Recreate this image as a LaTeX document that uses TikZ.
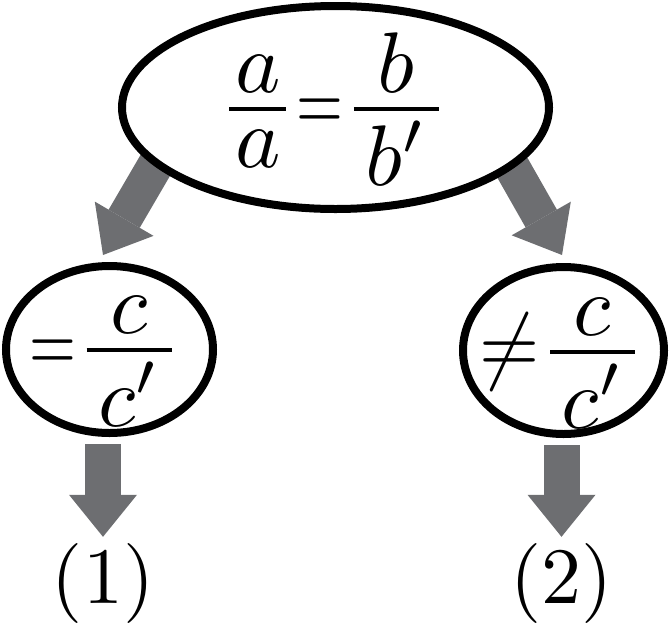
\documentclass[tikz,border=0pt]{standalone}
\usepackage{amsmath}
\usepackage{graphicx}
\usetikzlibrary{arrows.meta, shapes.geometric, backgrounds}

\definecolor{arrowgray}{RGB}{109,110,113}
\newcommand{\bigtext}[1]{\scalebox{8}{#1}}
\newcommand{\bigmath}[1]{\scalebox{8.6}{$\thickmuskip=0mu #1$}}
% fraction with a wide bar and tight spacing: num, den, raise of den, bar width
\newcommand{\fr}[4]{\dfrac{\raisebox{-2.4pt}{\makebox[#4]{$#1$}}}{\raisebox{#3}{$#2$}}}
\newcommand{\eqs}{\mathrel{\scalebox{0.7}[1]{$=$}}}
\newcommand{\neqs}{\mathrel{\scalebox{0.9}[1]{$\neq$}}}

\begin{document}
\begin{tikzpicture}[x=1pt, y=-1pt,
  oval/.style={ellipse, draw, line width=8pt, fill=white, inner sep=0pt},
  formula/.style={inner sep=0pt, anchor=base},
  bigarrow/.style={arrowgray, line width=36pt,
    -{Triangle[width=68pt, length=42pt, line width=0pt]}}]
  \useasboundingbox (0,0) rectangle (671,638);

  \node[oval, minimum width=427pt, minimum height=203pt] (top) at (335.5,107.5) {};
  \node[oval, minimum width=207pt, minimum height=167pt] (left) at (109.5,349.5) {};
  \node[oval, minimum width=201pt, minimum height=167pt] (right) at (563.5,350.5) {};

  \node[formula] (topeq) at (334,130.5)
    {\bigmath{\fr{a}{a}{2.6pt}{6.63pt}\eqs\fr{b}{b'}{1pt}{9.88pt}}};
  \node[formula] (lefteq) at (105.8,371.5)
    {\bigmath{\eqs\fr{c}{c'}{2.4pt}{9.88pt}}};
  \node[formula] (righteq) at (562.4,373.5)
    {\bigmath{\neqs\fr{c}{c'}{2.4pt}{9.88pt}}};

  \node[inner sep=0pt] (one) at (103,583) {\bigtext{(1)}};
  \node[inner sep=0pt] (two) at (561.5,583) {\bigtext{(2)}};

  \coordinate (lend) at (103,255);
  \coordinate (rend) at (562,255);

  \begin{scope}[on background layer]
    \draw[bigarrow, shorten <=-30pt] (top.198) -- (lend);
    \draw[bigarrow, shorten <=-30pt] (top.341) -- (rend);
  \end{scope}
  \draw[bigarrow, shorten <=7pt, shorten >=6pt] (left.south -| one.north) -- (one.north);
  \draw[bigarrow, shorten <=7pt, shorten >=6pt] (right.south -| two.north) -- (two.north);
\end{tikzpicture}
\end{document}
